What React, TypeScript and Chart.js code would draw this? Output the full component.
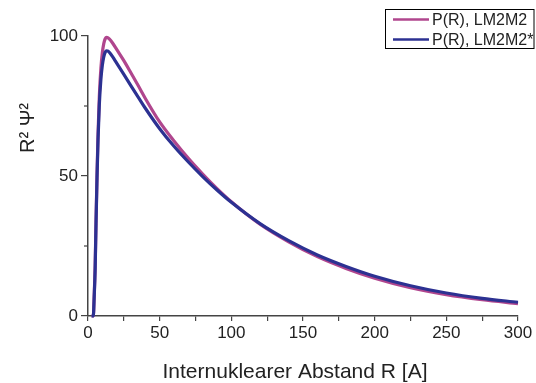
import React, { useEffect, useRef } from "react";
import { Chart, registerables } from "chart.js";

Chart.register(...registerables);

const rValues = [2.5, 3.7, 4.3, 5, 5.6, 6.3, 7, 7.9, 9, 10, 11, 12, 13, 14, 15, 17, 20, 25, 30, 35, 40, 50, 60, 70, 80, 90, 100, 120, 140, 160, 180, 200, 225, 250, 275, 300];
const pLM2M2 = [0, 0, 7, 18, 34, 50.5, 65, 78.5, 88.5, 94, 97.3, 99, 99.5, 99.3, 98.9, 97.6, 95.2, 91.2, 86.8, 82.3, 77.7, 69.3, 62.5, 56.3, 50.7, 45.5, 40.8, 32.8, 26.5, 21.2, 17, 13.5, 10.1, 7.6, 5.8, 4.4];
const pLM2M2star = [0, 0, 6.5, 17, 33, 49.5, 63, 75.5, 84.5, 89.5, 92.5, 94.2, 94.7, 94.6, 94.1, 92.7, 90.3, 86.3, 82.2, 78.2, 74.2, 66.9, 60.6, 55, 49.8, 45, 40.6, 33, 26.9, 21.8, 17.7, 14.2, 10.8, 8.2, 6.3, 4.9];

const seriesLabels = ["P(R), LM2M2", "P(R), LM2M2*"];
const seriesColors = ["#b0468e", "#2c3192"];
const xTitle = "Internuklearer Abstand R [A]";
const yTitle = "R\u00B2 \u03A8\u00B2";

const FONT = "'Liberation Sans', Arial, Helvetica, sans-serif";
const AXIS = "#444";
const TEXT = "#222";

const decorPlugin = {
  id: "decor",
  afterDraw(chart: any) {
    const ctx = chart.ctx;
    const ys = chart.scales.y;
    const xs = chart.scales.x;
    ctx.save();
    // minor y ticks
    ctx.strokeStyle = AXIS;
    ctx.lineWidth = 1.2;
    [25, 75].forEach((v) => {
      const py = ys.getPixelForValue(v);
      ctx.beginPath();
      ctx.moveTo(xs.left - 4, py);
      ctx.lineTo(xs.left, py);
      ctx.stroke();
    });
    // titles
    ctx.fillStyle = TEXT;
    ctx.font = `21px ${FONT}`;
    ctx.textAlign = "center";
    ctx.textBaseline = "alphabetic";
    ctx.fillText(xTitle, 295, 378);
    ctx.save();
    ctx.translate(34, 128);
    ctx.rotate(-Math.PI / 2);
    ctx.font = `20px ${FONT}`;
    ctx.textAlign = "center";
    ctx.fillText(yTitle, 0, 0);
    ctx.restore();
    // legend
    ctx.strokeStyle = "#000";
    ctx.lineWidth = 1;
    ctx.strokeRect(385.5, 9.5, 148.5, 39);
    const rowsY = [19.5, 39.5];
    seriesLabels.forEach((lab, i) => {
      ctx.strokeStyle = seriesColors[i];
      ctx.lineWidth = 2.5;
      ctx.beginPath();
      ctx.moveTo(393, rowsY[i]);
      ctx.lineTo(429, rowsY[i]);
      ctx.stroke();
      ctx.fillStyle = TEXT;
      ctx.font = `16px ${FONT}`;
      ctx.textAlign = "left";
      ctx.textBaseline = "middle";
      ctx.fillText(lab, 432, rowsY[i] + 1);
    });
    ctx.restore();
  },
};

export default function App() {
  const ref = useRef<HTMLCanvasElement | null>(null);
  useEffect(() => {
    if (!ref.current) return;
    const tickCb = (v: any) => (Number(v) % 50 === 0 ? String(v) : "");
    const chart = new Chart(ref.current, {
      type: "line",
      data: {
        datasets: [
          {
            label: seriesLabels[0],
            data: rValues.map((r, i) => ({ x: r, y: pLM2M2[i] })),
            borderColor: seriesColors[0],
            borderWidth: 3.2,
            pointRadius: 0,
            cubicInterpolationMode: "monotone",
            fill: false,
            clip: false,
            order: 1,
          },
          {
            label: seriesLabels[1],
            data: rValues.map((r, i) => ({ x: r, y: pLM2M2star[i] })),
            borderColor: seriesColors[1],
            borderWidth: 3.2,
            pointRadius: 0,
            cubicInterpolationMode: "monotone",
            fill: false,
            clip: false,
            order: 0,
          },
        ],
      },
      options: {
        responsive: false,
        animation: false,
        layout: { padding: { left: 0, top: 36, right: 18, bottom: 0 } },
        plugins: { legend: { display: false }, tooltip: { enabled: false }, title: { display: false } },
        scales: {
          x: {
            type: "linear",
            min: 0,
            max: 300,
            afterFit: (s: any) => {
              s.height = 67;
            },
            ticks: {
              stepSize: 25,
              autoSkip: false,
              maxRotation: 0,
              callback: tickCb,
              color: TEXT,
              padding: 2,
              font: { family: FONT, size: 17 },
            },
            grid: { display: true, drawOnChartArea: false, tickLength: 5, color: AXIS, lineWidth: 1.2 },
            border: { display: true, color: AXIS, width: 1.5 },
          },
          y: {
            type: "linear",
            min: 0,
            max: 100,
            afterFit: (s: any) => {
              s.width = 88;
            },
            ticks: {
              stepSize: 25,
              autoSkip: false,
              callback: tickCb,
              color: TEXT,
              padding: 3,
              font: { family: FONT, size: 17 },
            },
            grid: {
              display: true,
              drawOnChartArea: false,
              tickLength: 7,
              color: (c: any) => (c.tick && c.tick.value % 50 === 0 ? AXIS : "rgba(0,0,0,0)"),
              lineWidth: 1.2,
            },
            border: { display: true, color: AXIS, width: 1.5 },
          },
        },
      },
      plugins: [decorPlugin],
    } as any);
    return () => chart.destroy();
  }, []);
  return (
    <div style={{ position: "fixed", left: 0, top: 0, width: 536, height: 383, background: "#fff" }}>
      <canvas ref={ref} width={536} height={383} style={{ display: "block" }} />
    </div>
  );
}
